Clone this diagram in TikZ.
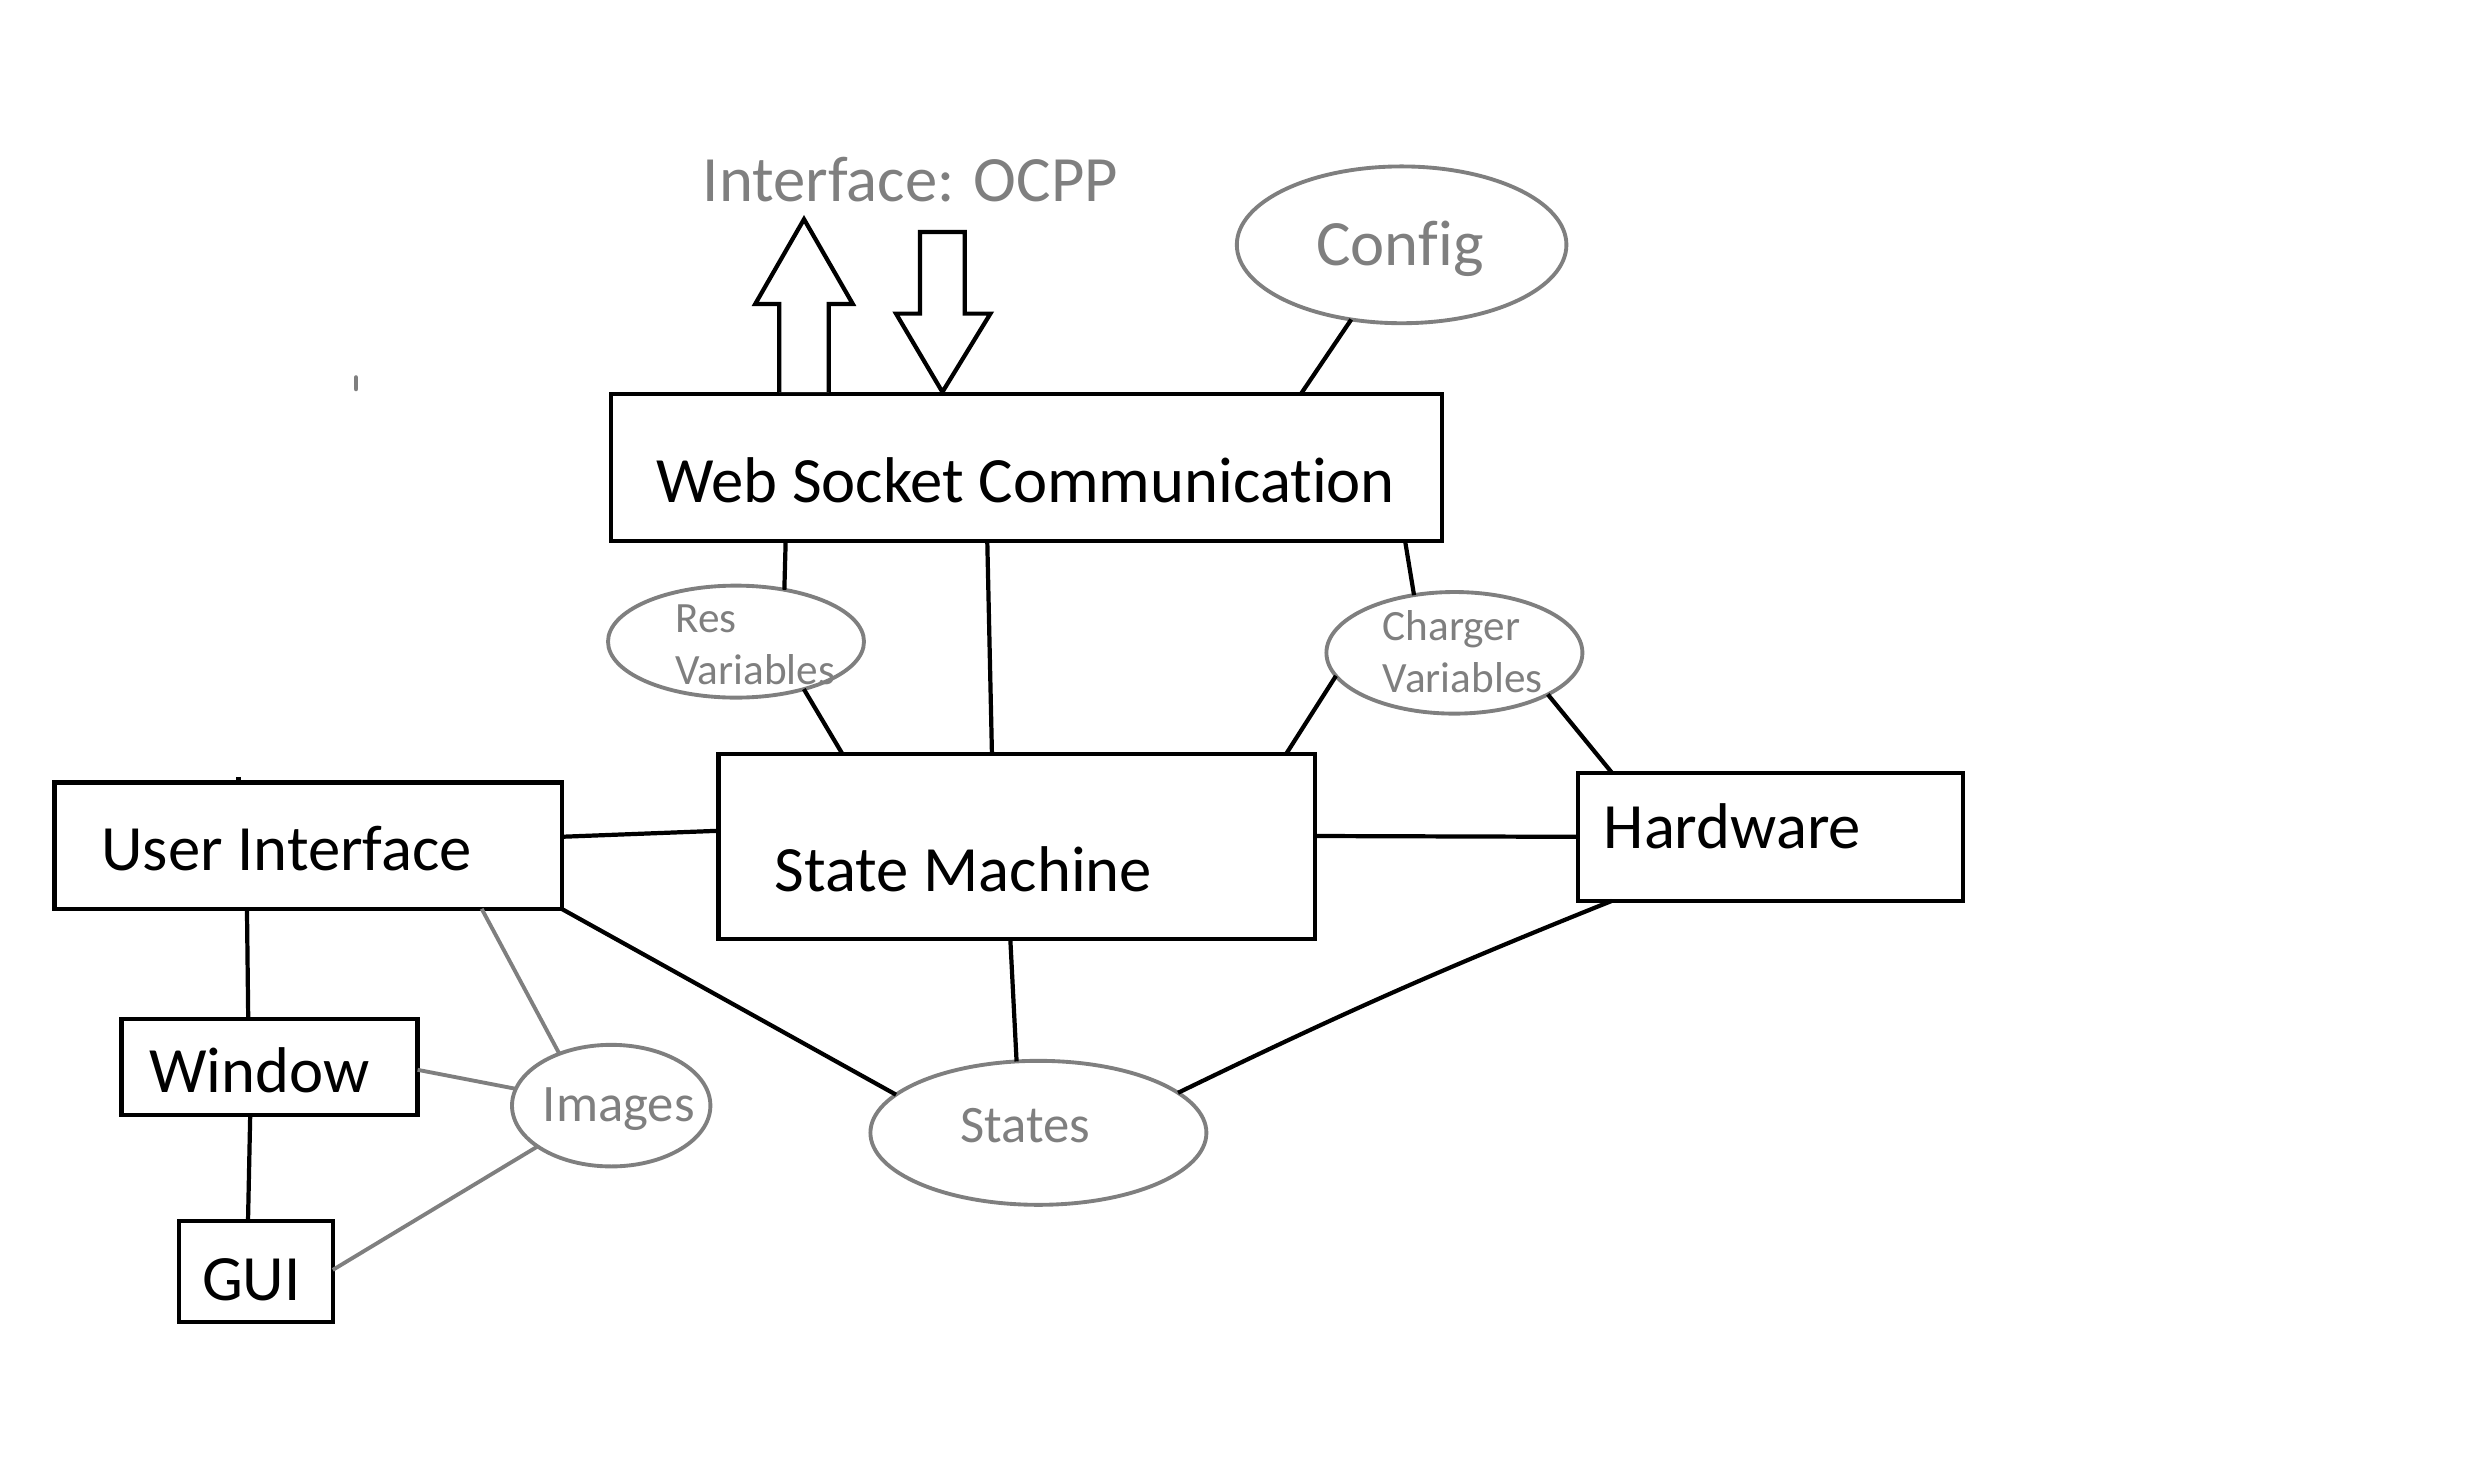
\documentclass[tikz,border=0pt]{standalone}
\usepackage{fontspec}
\setmainfont{Carlito}[Ligatures=CommonOff]
\usetikzlibrary{shapes.geometric, positioning}
\definecolor{penGray}{HTML}{7F7F7F}
\tikzset{
    box/.style 2 args={draw, rectangle, inner sep=0pt, outer sep=0pt, minimum width=#1*0.016cm, minimum height=#2*0.016cm},
    blob/.style 2 args={draw=penGray, ellipse, line width=1.1pt, inner sep=0pt, outer sep=0pt, minimum width=#1*0.016cm, minimum height=#2*0.016cm}
}

\begin{document}
\begin{tikzpicture}[
    x=0.016cm, y=-0.016cm,
    line width=1.2pt,
    big/.style={font=\fontsize{18.4}{22}\selectfont, inner sep=0pt},
    small/.style={font=\fontsize{12.3}{15}\selectfont, inner sep=0pt, text=penGray},
    mid/.style={font=\fontsize{15}{18}\selectfont, inner sep=0pt, text=penGray},
    link/.style={line width=1.2pt},
    glink/.style={color=penGray, line width=1.1pt},
    hollow/.style={draw, line width=1.2pt, fill=white, line join=miter}
]
\useasboundingbox (0,0) rectangle (1550,911.25);
% the boxes
\node[box={519}{92}] (b_ws) at (641.5,292) {};
\node[box={373}{116}] (b_sm) at (635.5,529) {};
\node[box={241}{80}] (b_hw) at (1106.5,523) {};
\node[box={317}{79}] (b_ui) at (192.5,528.5) {};
\node[box={185}{60}] (b_win) at (168.5,667) {};
\node[box={96}{63}] (b_gui) at (160,794.5) {};
% the data blobs
\node[blob={206}{98}] (e_cfg) at (876,153) {};
\node[blob={160}{70}] (e_res) at (460,401) {};
\node[blob={160}{76}] (e_chg) at (909,408) {};
\node[blob={124}{76}] (e_img) at (382,691) {};
\node[blob={210}{90}] (e_sts) at (649,708) {};
% labels
\node[big, anchor=base] (t_ws) at (641,314) {Web Socket Communication};
\node[big, anchor=base, text=penGray] (t_ocpp) at (569,126) {Interface: OCPP};
\node[big, anchor=base, text=penGray] (t_cfg) at (875,166) {Config};
\node[big, anchor=base west] (t_sm) at (483,557) {State Machine};
\node[big, anchor=base west] (t_hw) at (1001,530) {Hardware};
\node[big, anchor=base west] (t_ui) at (62,544) {User Interface};
\node[big, anchor=base west] (t_win) at (92,683) {Window};
\node[big, anchor=base west] (t_gui) at (125,813) {GUI};
\node[small, anchor=base west] (t_res1) at (421,395) {Res};
\node[small, anchor=base west] (t_res2) at (421,428) {Variables};
\node[small, anchor=base west] (t_chg1) at (863,400) {Charger};
\node[small, anchor=base west] (t_chg2) at (863,433) {Variables};
\node[mid, anchor=base west] (t_img) at (338,701) {Images};
\node[mid, anchor=base west] (t_sts) at (599,714) {States};
% OCPP in and out
\draw[hollow] (487,245) -- (487,190) -- (472,190) -- (502.5,137) -- (533,190) -- (518,190) -- (518,245);
\draw[hollow] (575,145) -- (603,145) -- (603,196) -- (619,196) -- (589,245) -- (560,196) -- (575,196) -- cycle;
% the links
\path[link]
(e_cfg.236) edge (b_ws.15)
(e_res.47) edge (b_ws.197.7)
(e_res.-35) edge (b_sm.152.5)
(b_ws.242) edge (b_sm.105)
(e_chg.125.4) edge (b_ws.-11.2)
(e_chg.191.3) edge (b_sm.19.2)
(e_chg.-24.2) edge (b_hw.158.7)
(b_sm.2) edge (b_hw.180)
(b_ui.2.3) edge (b_sm.177.85)
(b_ui.-14.5) edge (e_sts.165.7)
(b_ui.-134.3) edge (b_win.114.2)
(b_win.-112.6) edge (b_gui.99)
(b_sm.-94.4) edge (e_sts.107.6)
(b_hw.202.5) edge [bend right=2] (e_sts.16.6)
;
\path[glink]
(b_ui.-20) edge (e_img.135)
(b_win.-1.9) edge (e_img.170.7)
(b_gui.1.8) edge (e_img.209.4)
;
% stray pen marks
\draw[color=penGray, line cap=round, line width=1.4pt] (222.5,236) -- (222.5,243);
\draw (149,485.5) -- (149,489);
\end{tikzpicture}
\end{document}
